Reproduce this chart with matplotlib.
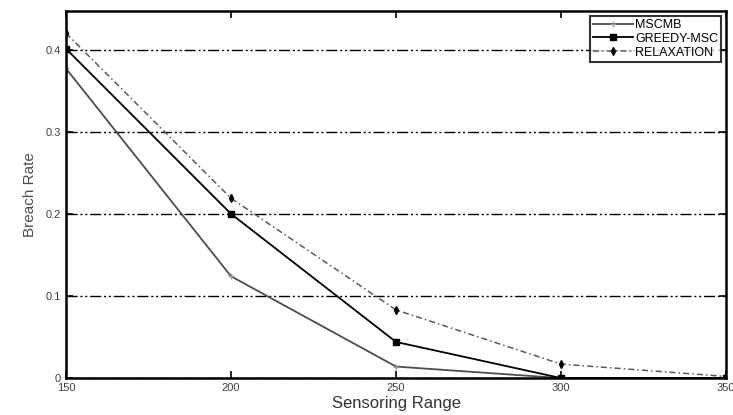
import matplotlib.pyplot as plt

# Breach rate vs sensoring range
ranges = [150, 200, 250, 300, 350]
mscmb = [0.377, 0.124, 0.014, 0.0, 0.0]
greedy_msc = [0.401, 0.200, 0.044, 0.0, 0.0]
relaxation = [0.420, 0.219, 0.083, 0.017, 0.002]

plt.rcParams['font.family'] = ['Liberation Sans', 'DejaVu Sans']

fig = plt.figure(figsize=(7.33, 4.15), dpi=100)
ax = fig.add_axes([0.09, 0.089, 0.9005, 0.8845])

ax.plot(ranges, mscmb, color='0.3', lw=1.3, marker='+', ms=5,
        mec='0.6', label='MSCMB')
ax.plot(ranges, greedy_msc, color='black', lw=1.3, marker='s', ms=4.5,
        label='GREEDY-MSC')
ax.plot(ranges, relaxation, color='0.35', lw=1.1, ls=(0, (4, 2, 1, 2)),
        marker='d', ms=4, mfc='black', mec='black', label='RELAXATION')

ax.set_xlim(150, 350)
ax.set_ylim(0, 0.447)
ax.set_xticks([150, 200, 250, 300, 350])
ax.set_yticks([0, 0.1, 0.2, 0.3, 0.4])
ax.set_yticklabels(['0', '0.1', '0.2', '0.3', '0.4'])
ax.tick_params(direction='in', labelsize=8, length=5, width=1.2,
               top=True, right=True, labelcolor='0.25')
ax.yaxis.grid(True, color='black', lw=1.0, ls=(0, (8, 2, 1.5, 2, 1.5, 2)))
for s in ax.spines.values():
    s.set_linewidth(1.8)

ax.set_xlabel('Sensoring Range', fontsize=12, color='0.2', labelpad=2)
ax.set_ylabel('Breach Rate', fontsize=11, color='0.3', labelpad=6)

leg = ax.legend(loc='upper right', bbox_to_anchor=(0.993, 0.987),
                fontsize=9, frameon=True, fancybox=False, borderpad=0.25,
                labelspacing=0.15, handlelength=3.2, handletextpad=0.2,
                borderaxespad=0)
leg.get_frame().set_edgecolor('black')
leg.get_frame().set_linewidth(1.5)

fig.savefig('out.png', dpi=100)
